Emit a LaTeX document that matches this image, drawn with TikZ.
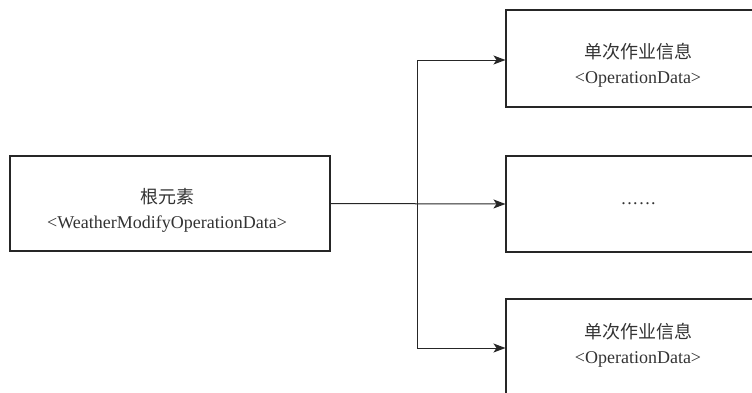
\documentclass[tikz,border=0pt]{standalone}
\usepackage{fontspec}
\setmainfont{Liberation Serif}
\newfontfamily\cjk{Noto Sans CJK SC}
\usetikzlibrary{arrows.meta}
\tikzset{
  box/.style={draw=black!85, line width=1.1pt, minimum width=264pt, minimum height=96pt, inner sep=0pt},
  lbl/.style={align=center, text=black!80, font=\fontsize{18pt}{25pt}\selectfont, inner sep=0pt},
  conn/.style={draw=black!85, line width=1pt},
  arr/.style={conn, -{Stealth[length=12pt,width=9pt,inset=3pt]}}
}
\begin{document}
\begin{tikzpicture}[x=1pt,y=-1pt]
\useasboundingbox (0,0) rectangle (752,392);
\clip (0,0) rectangle (752,392);
% boxes
\node[box, minimum width=320pt, minimum height=95pt] (root) at (170,203.5) {};
\node[box, minimum height=97pt] (top) at (638,58.5) {};
\node[box] (mid) at (638,204) {};
\node[box, minimum height=97pt] (bot) at (638,347.5) {};
% labels
\node[lbl] (rootl) at (167,210) {{\cjk 根元素}\\<WeatherModifyOperationData>};
\node[lbl] (topl) at (638,65) {{\cjk 单次作业信息}\\<OperationData>};
\node[lbl] (midl) at (638.5,204) {.\kern1.5pt.\kern1.5pt.\kern1.5pt.\kern1.5pt.\kern1.5pt.};
\node[lbl] (botl) at (638,345) {{\cjk 单次作业信息}\\<OperationData>};
% connectors
\coordinate (jt) at (417,60);
\coordinate (jb) at (417,348);
\draw[arr] (root.east) -- (mid.west);
\draw[conn] (jt) -- (jb);
\draw[arr] (jt) -- (jt -| top.west);
\draw[arr] (jb) -- (jb -| bot.west);
\end{tikzpicture}
\end{document}
